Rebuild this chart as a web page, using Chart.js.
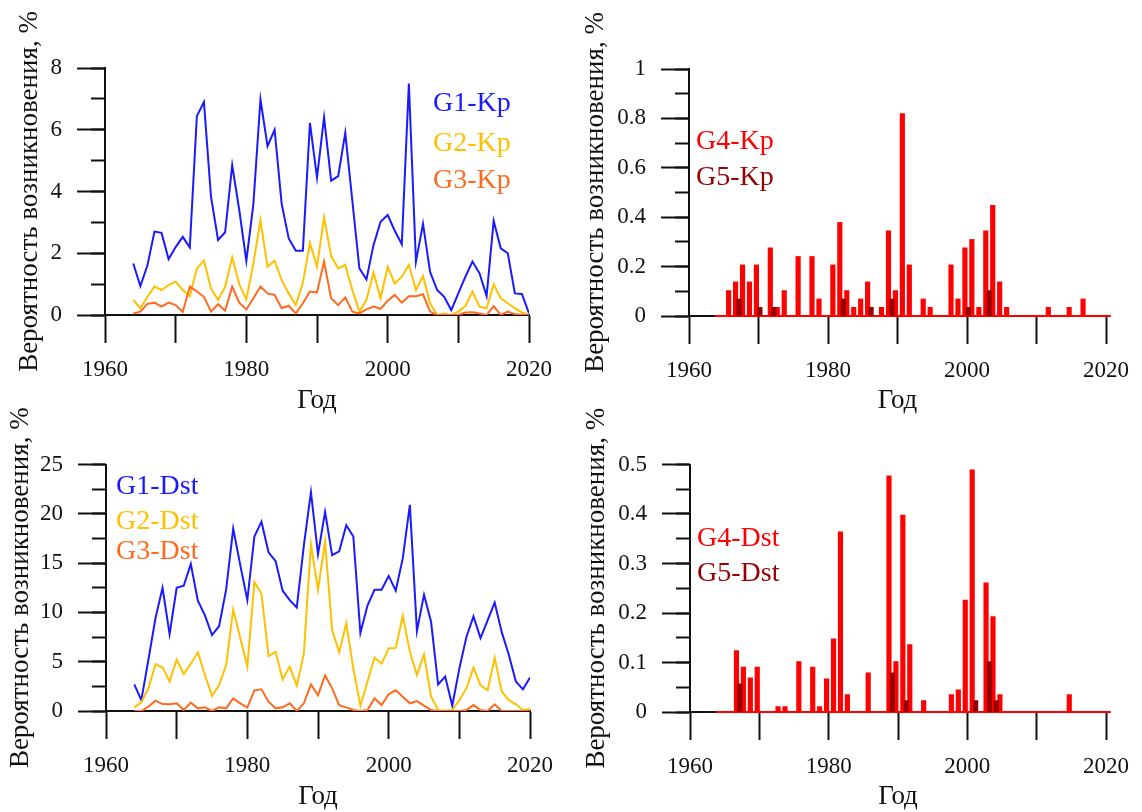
<!DOCTYPE html>
<html lang="ru">
<head>
<meta charset="utf-8">
<title>Вероятность возникновения геомагнитных бурь</title>
<script src="https://cdn.jsdelivr.net/npm/chart.js@4.4.1/dist/chart.umd.min.js"></script>
<style>
  html, body { margin: 0; padding: 0; background: #fff; }
  body { width: 1142px; height: 812px; position: relative; overflow: hidden;
         font-family: "Liberation Serif", "Times New Roman", serif; }
  .panel { position: absolute; }
  .tag { position: absolute; font-size: 28px; line-height: 1; white-space: nowrap; }
</style>
</head>
<body>
<div class="panel" style="left:0;top:0"><canvas id="kpWeak" width="571" height="420"></canvas></div>
<div class="panel" style="left:571px;top:0"><canvas id="kpStrong" width="571" height="420"></canvas></div>
<div class="panel" style="left:0;top:400px"><canvas id="dstWeak" width="571" height="412"></canvas></div>
<div class="panel" style="left:571px;top:400px"><canvas id="dstStrong" width="571" height="412"></canvas></div>

<div class="tag" style="left:433px;top:88px;color:#1a1aff">G1-Kp</div>
<div class="tag" style="left:433px;top:128px;color:#ffc000">G2-Kp</div>
<div class="tag" style="left:433px;top:165px;color:#ff6a1f">G3-Kp</div>
<div class="tag" style="left:696px;top:126px;color:#ff0000">G4-Kp</div>
<div class="tag" style="left:696px;top:162px;color:#960000">G5-Kp</div>
<div class="tag" style="left:116px;top:471px;color:#1a1aff">G1-Dst</div>
<div class="tag" style="left:116px;top:506px;color:#ffc000">G2-Dst</div>
<div class="tag" style="left:116px;top:536px;color:#ff6a1f">G3-Dst</div>
<div class="tag" style="left:697px;top:523px;color:#ff0000">G4-Dst</div>
<div class="tag" style="left:697px;top:558px;color:#960000">G5-Dst</div>

<script>
// ---- yearly series, 1964..2020 ----
const YEAR_FIRST = 1964;
const YEAR_LAST = 2020;
const years = [];
for (let y = YEAR_FIRST; y <= YEAR_LAST; y++) years.push(y);

// Kp-based storm classes, % of time
const g1Kp = [1.67, 0.94, 1.6, 2.7, 2.66, 1.81, 2.2, 2.53, 2.19, 6.44,
              6.9, 3.83, 2.43, 2.68, 4.85, 3.4, 1.75, 3.6, 6.98, 5.47,
              6.0, 3.6, 2.48, 2.08, 2.08, 6.22, 4.45, 6.4, 4.35, 4.5,
              5.9, 3.7, 1.51, 1.15, 2.27, 3.02, 3.24, 2.73, 2.29, 7.5,
              1.73, 2.95, 1.4, 0.81, 0.59, 0.16, 0.7, 1.24, 1.73, 1.35,
              0.61, 3.05, 2.16, 2.0, 0.7, 0.68, 0.05];
const g2Kp = [0.49, 0.22, 0.59, 0.92, 0.81, 0.97, 1.08, 0.81, 0.61, 1.51,
              1.76, 0.86, 0.49, 0.92, 1.87, 1.0, 0.51, 1.67, 3.07, 1.56,
              1.76, 1.13, 0.7, 0.32, 1.05, 2.34, 1.56, 3.16, 1.91, 1.51,
              1.62, 0.81, 0.11, 0.49, 1.37, 0.54, 1.56, 1.02, 1.24, 1.62,
              0.81, 1.26, 0.38, 0, 0.05, 0, 0.11, 0.29, 0.76, 0.27,
              0.22, 0.99, 0.54, 0.38, 0.22, 0.08, 0];
const g3Kp = [0.05, 0.11, 0.36, 0.4, 0.27, 0.4, 0.32, 0.1, 0.92, 0.76,
              0.59, 0.11, 0.35, 0.14, 0.92, 0.4, 0.18, 0.54, 0.92, 0.7,
              0.65, 0.22, 0.3, 0.05, 0.38, 0.76, 0.73, 1.73, 0.54, 0.32,
              0.57, 0.11, 0.05, 0.18, 0.27, 0.2, 0.46, 0.65, 0.4, 0.61,
              0.61, 0.67, 0.11, 0, 0, 0, 0, 0.08, 0.09, 0.05,
              0, 0.29, 0, 0.11, 0.03, 0, 0];

// Dst-based storm classes, % of time
const g1Dst = [2.7, 1.1, 5.2, 9.4, 12.5, 7.8, 12.5, 12.7, 14.9, 11.2,
               9.7, 7.7, 8.6, 12.3, 18.5, 14.8, 11.25, 17.7, 19.2, 16.1,
               15.2, 12.2, 11.25, 10.5, 16.8, 22.2, 15.9, 20.2, 15.8, 16.2,
               18.85, 17.7, 7.9, 10.7, 12.3, 12.3, 13.7, 12.2, 15.5, 20.9,
               8.1, 11.8, 9.05, 2.7, 3.5, 0.54, 4.3, 7.5, 9.6, 7.4,
               9.2, 11.0, 8.0, 5.7, 3.0, 2.2, 3.4];
const g2Dst = [0.37, 0.88, 2.3, 4.76, 4.4, 3.0, 5.2, 3.75, 4.8, 5.95,
               3.65, 1.55, 2.6, 4.66, 10.3, 7.4, 4.5, 13.1, 11.9, 5.57,
               6.0, 3.2, 4.5, 2.57, 5.84, 16.9, 12.3, 17.2, 8.2, 5.95,
               8.9, 4.3, 0.54, 3.0, 5.4, 4.8, 6.35, 6.4, 9.66, 6.0,
               3.65, 5.75, 1.45, 0.1, 0.03, 0.1, 1.1, 2.3, 4.4, 2.6,
               2.1, 5.4, 1.96, 1.1, 0.68, 0.1, 0.2];
const g3Dst = [0, 0, 0.44, 1.05, 0.7, 0.68, 0.78, 0.1, 0.85, 0.27,
               0.37, 0, 0.37, 0.27, 1.28, 0.78, 0.34, 2.1, 2.2, 0.95,
               0.27, 0.37, 0.78, 0, 0.78, 2.7, 1.6, 3.6, 2.3, 0.6,
               0.37, 0.1, 0, 0.1, 1.28, 0.6, 1.7, 2.1, 1.45, 0.78,
               1.0, 0.54, 0.1, 0, 0, 0, 0, 0.1, 0.6, 0.1,
               0, 0.68, 0, 0, 0, 0, 0];

// strong / extreme storms: only the years that have any
const g4KpYears = [1966, 1967, 1968, 1969, 1970, 1972, 1973, 1974, 1976, 1978,
                   1979, 1981, 1982, 1983, 1984, 1985, 1986, 1988, 1989, 1990,
                   1991, 1992, 1994, 1995, 1998, 1999, 2000, 2001, 2002, 2003,
                   2004, 2005, 2006, 2012, 2015, 2017];
const g4KpVals = [0.103, 0.138, 0.207, 0.138, 0.207, 0.276, 0.035, 0.103, 0.241, 0.241,
                  0.069, 0.207, 0.379, 0.103, 0.035, 0.069, 0.138, 0.035, 0.345, 0.103,
                  0.82, 0.207, 0.069, 0.035, 0.207, 0.069, 0.276, 0.31, 0.035, 0.345,
                  0.448, 0.138, 0.035, 0.035, 0.035, 0.069];
const g5KpYears = [1967, 1970, 1972, 1982, 1986, 1989, 2000, 2003];
const g5KpVals = [0.069, 0.035, 0.035, 0.069, 0.035, 0.069, 0.035, 0.103];

const g4DstYears = [1967, 1968, 1969, 1970, 1973, 1974, 1976, 1978, 1979, 1980,
                    1981, 1982, 1983, 1986, 1989, 1990, 1991, 1992, 1994, 1998,
                    1999, 2000, 2001, 2003, 2004, 2005, 2015];
const g4DstVals = [0.124, 0.091, 0.069, 0.091, 0.011, 0.011, 0.102, 0.091, 0.011, 0.067,
                   0.148, 0.364, 0.035, 0.079, 0.477, 0.102, 0.398, 0.136, 0.023, 0.035,
                   0.045, 0.226, 0.489, 0.261, 0.193, 0.035, 0.035];
const g5DstYears = [1967, 1989, 1991, 2001, 2003, 2004];
const g5DstVals = [0.057, 0.079, 0.023, 0.023, 0.102, 0.023];

// period covered by the bar record (zero line under the bars)
const recordSpan = [1964, 2021];

// ---- palette / fonts ----
const C = { blue: "#1a1aff", gold: "#ffc000", orange: "#ff6a1f", red: "#ff0000", maroon: "#960000", ink: "#111111" };
const SERIF = '"Liberation Serif", serif';
const Y_TITLE = "Вероятность возникновения, %";

// bar placement inside a year (G4 left, G5 right)
const SHIFT_G4 = -0.3;
const SHIFT_G5 = 0.2;

const pts = (xs, ys, shift = 0) => xs.map((x, i) => ({ x: x + shift, y: ys[i] }));

function scalesFor(o) {
  const tickGrid = (len) => ({ drawOnChartArea: false, drawTicks: true, tickLength: len, tickWidth: 2, tickColor: C.ink, offset: false });
  return {
    x: {
      type: "linear", min: 1960, max: 2020, offset: false,
      afterFit: (s) => { s.height = o.xHeight; },
      grid: tickGrid(28),
      border: { display: true, color: C.ink, width: 2 },
      ticks: { stepSize: 10, autoSkip: false, maxRotation: 0, padding: 13, color: C.ink,
               font: { family: SERIF, size: 23 }, callback: (v) => (v % 20 === 0 ? String(v) : "") },
      title: { display: true, text: "Год", color: C.ink, font: { family: SERIF, size: 27, lineHeight: 1 },
               padding: { top: 0, bottom: o.xTitlePad } },
    },
    y: {
      type: "linear", position: "left", weight: 1, min: 0, max: o.yMax,
      afterFit: (s) => { s.width = o.yWidth; },
      grid: tickGrid(28),
      border: { display: true, color: C.ink, width: 2 },
      ticks: { stepSize: o.yMajor, autoSkip: false, padding: 15, color: C.ink,
               font: { family: SERIF, size: 23 }, callback: (v) => String(+v.toFixed(2)) },
      title: { display: true, text: Y_TITLE, color: C.ink, font: { family: SERIF, size: 27, lineHeight: 1 },
               padding: { top: o.yTitlePad, bottom: 0 } },
    },
    // short minor ticks between the labelled ones
    yMinor: {
      type: "linear", position: "left", weight: 0, min: 0, max: o.yMax,
      afterFit: (s) => { s.width = 0; },
      grid: tickGrid(14),
      border: { display: false },
      ticks: { stepSize: o.yMinor, autoSkip: false, display: false },
    },
  };
}

function baseOptions(o) {
  return {
    responsive: false,
    animation: false,
    devicePixelRatio: 1,
    layout: { padding: { left: 0, top: o.padTop, right: o.padRight, bottom: 0 } },
    plugins: { legend: { display: false }, tooltip: { enabled: false } },
    scales: scalesFor(o),
  };
}

function lineSet(vals, color, order) {
  return { data: pts(years, vals), borderColor: color, borderWidth: 2, pointRadius: 0,
           tension: 0, fill: false, yAxisID: "y", order };
}

function barSets(g4x, g4y, g5x, g5y) {
  return [
    { type: "bar", data: pts(g5x, g5y, SHIFT_G5), backgroundColor: C.maroon, barThickness: 4.5,
      grouped: false, yAxisID: "y", order: 0 },
    { type: "bar", data: pts(g4x, g4y, SHIFT_G4), backgroundColor: C.red, barThickness: 4.5,
      grouped: false, yAxisID: "y", order: 1 },
    { type: "line", data: recordSpan.map((x) => ({ x: x + SHIFT_G4, y: 0 })), borderColor: C.red,
      borderWidth: 2, pointRadius: 0, clip: false, yAxisID: "y", order: 2 },
  ];
}

function buildAll() {
  Chart.defaults.font.family = SERIF;

  // 1) Kp, G1..G3
  new Chart(document.getElementById("kpWeak"), {
    type: "line",
    data: { datasets: [lineSet(g1Kp, C.blue, 2), lineSet(g2Kp, C.gold, 1), lineSet(g3Kp, C.orange, 0)] },
    options: baseOptions({ yMax: 8, yMajor: 2, yMinor: 1, yWidth: 105, xHeight: 105,
                           yTitlePad: 16.5, xTitlePad: 5.5, padTop: 68, padRight: 42 }),
  });

  // 2) Kp, G4..G5
  new Chart(document.getElementById("kpStrong"), {
    type: "bar",
    data: { datasets: barSets(g4KpYears, g4KpVals, g5KpYears, g5KpVals) },
    options: baseOptions({ yMax: 1, yMajor: 0.2, yMinor: 0.1, yWidth: 118, xHeight: 104,
                           yTitlePad: 11.5, xTitlePad: 5.5, padTop: 69, padRight: 29.3 }),
  });

  // 3) Dst, G1..G3
  new Chart(document.getElementById("dstWeak"), {
    type: "line",
    data: { datasets: [lineSet(g1Dst, C.blue, 2), lineSet(g2Dst, C.gold, 1), lineSet(g3Dst, C.orange, 0)] },
    options: baseOptions({ yMax: 25, yMajor: 5, yMinor: 2.5, yWidth: 106, xHeight: 101,
                           yTitlePad: 7.5, xTitlePad: 1.5, padTop: 64.5, padRight: 41 }),
  });

  // 4) Dst, G4..G5
  new Chart(document.getElementById("dstStrong"), {
    type: "bar",
    data: { datasets: barSets(g4DstYears, g4DstVals, g5DstYears, g5DstVals) },
    options: baseOptions({ yMax: 0.5, yMajor: 0.1, yMinor: 0.05, yWidth: 119, xHeight: 100,
                           yTitlePad: 12.5, xTitlePad: 1.5, padTop: 64.5, padRight: 29 }),
  });
}

// canvas text needs the serif face to be resolved first
document.fonts.load('23px "Liberation Serif"').then(buildAll, buildAll);
</script>
</body>
</html>
